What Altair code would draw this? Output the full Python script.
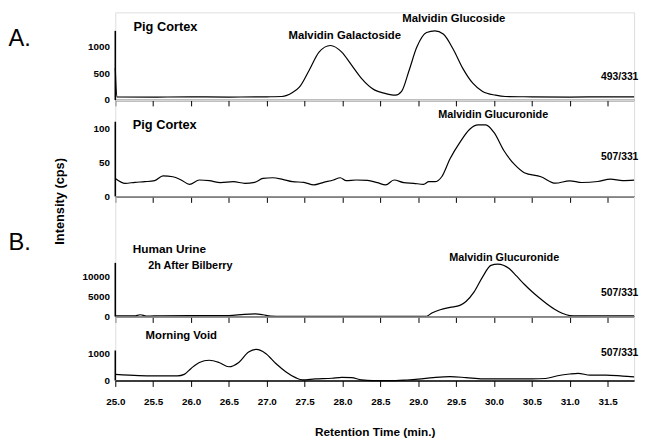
import altair as alt
import pandas as pd

# ---------------- data ----------------
x_ticks = [25.0, 25.5, 26.0, 26.5, 27.0, 27.5, 28.0, 28.5, 29.0, 29.5, 30.0, 30.5, 31.0, 31.5]

# Panel A1: Pig Cortex 493/331
p1_t = [25.0, 25.02, 25.5, 26.0, 26.5, 27.0, 27.2, 27.34, 27.43, 27.56, 27.69, 27.84,
        27.99, 28.12, 28.25, 28.42, 28.56, 28.7, 28.78, 28.88, 28.98, 29.11, 29.22, 29.33,
        29.46, 29.59, 29.72, 29.85, 30.02, 30.15, 30.5, 31.0, 31.5, 31.85]
p1_v = [600, 60, 55, 60, 55, 60, 65, 140, 240, 560, 900, 1025,
        900, 655, 407, 190, 125, 90, 160, 560, 990, 1270, 1300, 1240,
        960, 590, 315, 160, 90, 65, 60, 55, 60, 60]
p1_ticks = [0, 500, 1000]

# Panel A2: Pig Cortex 507/331
p2_t = [25.0, 25.13, 25.26, 25.39, 25.52, 25.63, 25.76, 25.87, 25.98, 26.11, 26.24, 26.39,
        26.56, 26.71, 26.84, 26.95, 27.08, 27.21, 27.34, 27.49, 27.62, 27.75, 27.88, 27.97,
        28.05, 28.18, 28.33, 28.46, 28.57, 28.68, 28.81, 28.94, 29.07, 29.14, 29.22, 29.31,
        29.42, 29.55, 29.68, 29.79, 29.89, 30.0, 30.13, 30.28, 30.4, 30.62, 30.81, 31.0,
        31.16, 31.37, 31.54, 31.7, 31.85]
p2_v = [26.5, 19.3, 20.8, 21.7, 23.2, 30.4, 29, 24.2, 17.9, 24.2, 23.2, 20.3,
        21.7, 19.3, 20.8, 26.5, 27.5, 25.1, 21.7, 20.8, 17, 20.8, 24.2, 27.5,
        23.2, 24.2, 23.7, 20.3, 17, 24.2, 20.3, 19.3, 17.9, 21.7, 21.7, 29,
        55.6, 79.7, 99, 105.3, 105.3, 94.2, 67.6, 46, 35, 29, 19.5, 23,
        20.5, 22, 25.4, 23.4, 24]
p2_ticks = [0, 50, 100]

# Panel B1: Human Urine 2h after bilberry 507/331
p3_t = [25.0, 25.25, 25.33, 25.41, 25.6, 26.0, 26.5, 26.7, 26.85, 26.95, 27.05, 27.2,
        28.0, 28.5, 29.0, 29.11, 29.18, 29.29, 29.42, 29.55, 29.63, 29.74, 29.85, 29.96,
        30.05, 30.2, 30.3, 30.4, 30.5, 30.6, 30.7, 30.8, 30.9, 31.0, 31.1, 31.3, 31.6, 31.85]
p3_v = [150, 150, 450, 120, 200, 250, 250, 550, 650, 450, 100, 30,
        30, 30, 30, 80, 900, 1700, 2270, 2760, 3740, 6180, 9840, 12680,
        13000, 11900, 10000, 8000, 6200, 4600, 3100, 1800, 800, 250, 150, 200, 200, 200]
p3_ticks = [0, 5000, 10000]

# Panel B2: Morning Void 507/331
p4_t = [25.0, 25.31, 25.52, 25.82, 25.91, 26.0, 26.11, 26.24, 26.37, 26.5, 26.63, 26.76,
        26.86, 26.99, 27.12, 27.25, 27.38, 27.47, 27.64, 27.86, 27.99, 28.12, 28.25, 28.4,
        28.7, 28.85, 29.0, 29.2, 29.42, 29.63, 29.85, 30.2, 30.5, 30.68, 30.84, 31.0,
        31.11, 31.27, 31.48, 31.7, 31.85]
p4_v = [233, 185, 175, 175, 233, 455, 680, 763, 680, 518, 680, 1073,
        1170, 1010, 640, 333, 110, 22, 60, 85, 122, 110, 22, 0,
        0, 20, 50, 110, 148, 110, 60, 60, 60, 77, 180, 245,
        270, 205, 205, 167, 140]
p4_ticks = [0, 1000]

# ---------------- style ----------------
FONT = "Liberation Sans"
X_MIN, X_MAX = 25.0, 31.85
W = 527


def label(text, t, v, size, align="center", weight="bold"):
    return alt.Chart(pd.DataFrame({"t": [t], "v": [v]})).mark_text(
        text=text, align=align, baseline="middle", font=FONT,
        fontSize=size, fontWeight=weight, color="black"
    ).encode(x=alt.X("t:Q"), y=alt.Y("v:Q"))


def pixel_label(text, x, y, size, weight="bold", angle=0):
    return alt.Chart(pd.DataFrame({"a": [0]})).mark_text(
        text=text, align="left" if angle == 0 else "center", baseline="middle",
        font=FONT, fontSize=size, fontWeight=weight, angle=angle, color="black"
    ).encode(x=alt.value(x), y=alt.value(y))


def panel(t, v, ticks, axis_top, height, px_per_unit, extras, bottom=False):
    ymax = height / px_per_unit
    xs = alt.Scale(domain=[X_MIN, X_MAX], nice=False, zero=False)
    ys = alt.Scale(domain=[0, ymax], nice=False, zero=False)
    xaxis = alt.Axis(
        values=x_ticks, format=".1f", domain=True, domainColor="black", domainWidth=1.6,
        ticks=True, tickSize=6, tickColor="black", tickWidth=1, labels=bottom,
        labelFlush=False, labelOverlap=False, labelPadding=10, labelFont=FONT,
        labelFontSize=10, labelFontWeight="bold", labelColor="black", grid=False,
        title="Retention Time (min.)" if bottom else "", titleFont=FONT,
        titleFontSize=12, titleFontWeight="bold", titleColor="black", titlePadding=21,
    )
    yaxis = alt.Axis(
        values=ticks, format="d", domain=False, ticks=False, labelPadding=6, labelFont=FONT,
        labelFontSize=10, labelFontWeight="bold", labelColor="black", grid=False,
        labelOverlap=False, title="",
    )
    df = pd.DataFrame({"t": t, "v": v})
    line = alt.Chart(df).mark_line(color="black", strokeWidth=1.2, interpolate="monotone").encode(
        x=alt.X("t:Q", scale=xs, axis=xaxis), y=alt.Y("v:Q", scale=ys, axis=yaxis)
    )
    rule = alt.Chart(pd.DataFrame({"t": [X_MIN], "v0": [0], "v1": [axis_top]})).mark_rule(
        color="black", strokeWidth=1.6
    ).encode(x=alt.X("t:Q", scale=xs), y=alt.Y("v0:Q", scale=ys), y2="v1:Q")
    return alt.layer(line, rule, *extras).properties(width=W, height=height)


c1 = panel(p1_t, p1_v, p1_ticks, 1300, 89, 0.054, [
    label("Pig Cortex", 25.24, 1370, 13, "left"),
    label("Malvidin Galactoside", 28.03, 1204, 11.5),
    label("Malvidin Glucoside", 29.47, 1519, 11.5),
    label("493/331", 31.66, 426, 10.5),
    pixel_label("A.", -108.5, 27, 24, weight="normal"),
])
c2 = panel(p2_t, p2_v, p2_ticks, 110, 98, 0.69, [
    label("Pig Cortex", 25.23, 105.8, 13, "left"),
    label("Malvidin Glucuronide", 29.99, 120, 11),
    label("507/331", 31.66, 58, 10.5),
])
c3 = panel(p3_t, p3_v, p3_ticks, 13300, 122, 0.0041, [
    label("Human Urine", 25.23, 16600, 12, "left"),
    label("2h After Bilberry", 25.435, 12400, 11, "left"),
    label("Malvidin Glucuronide", 30.135, 14390, 11),
    label("507/331", 31.66, 5850, 10.5),
    pixel_label("B.", -108.5, 47, 24, weight="normal"),
    pixel_label("Intensity  (cps)", -56.5, 5, 13, angle=270),
])
c4 = panel(p4_t, p4_v, p4_ticks, 1130, 65, 0.027, [
    label("Morning Void", 25.40, 1678, 11.5, "left"),
    label("507/331", 31.66, 1048, 10.5),
], bottom=True)

chart = alt.vconcat(c1, c2, c3, c4, spacing=0, bounds="flush").properties(
    padding={"left": 0, "top": 0, "right": 1, "bottom": 0}
).configure_view(stroke=None).configure(background="white")

chart.save("out.html", embed_options={"renderer": "svg", "actions": False})
